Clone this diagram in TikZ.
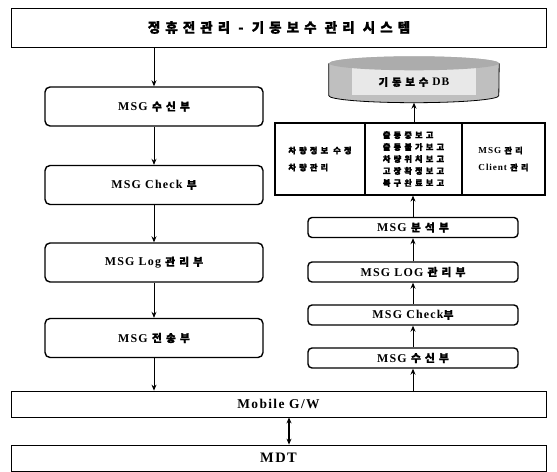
\documentclass[tikz,border=0pt]{standalone}
\usepackage{fontspec}
\setmainfont{Liberation Serif}[LetterSpace=10]
\newfontfamily\kr{Noto Sans CJK KR}[LetterSpace=38, FakeBold=1.6, Scale=0.9]
\usetikzlibrary{arrows.meta}
\begin{document}
\begin{tikzpicture}[x=1bp,y=-1bp,
  every node/.style={inner sep=0pt},
  frame/.style={draw, line width=0.8pt, minimum width=535bp},
  lbox/.style={draw, rounded corners=5bp, line width=1.4pt, minimum width=218bp, minimum height=39bp, font=\fontsize{12}{14}\selectfont\bfseries},
  rbox/.style={draw, rounded corners=4bp, line width=1.4pt, minimum width=210bp, minimum height=20bp, font=\fontsize{12}{14}\selectfont\bfseries},
  pbox/.style={draw, line width=1.2pt, minimum height=72bp, align=left, font=\fontsize{9.2}{12}\selectfont\bfseries},
  arr/.style={-{Stealth[length=6bp,width=5bp]}, line width=0.8pt},
  darr/.style={{Stealth[length=6bp,width=5bp]}-{Stealth[length=6bp,width=5bp]}, line width=1.2pt}
]
\useasboundingbox (0,0) rectangle (557,472);

% top system
\node[frame, minimum height=39bp, font=\fontsize{15}{17}\selectfont\bfseries] (top) at (279,27.5) {\kr 정휴전관리 - 기동보수 관리 시스템};

% left column
\node[lbox] (l1) at (154,106.5) {MSG {\kr 수신부}};
\node[lbox] (l2) at (154,185) {MSG Check {\kr 부}};
\node[lbox] (l3) at (154,262.5) {MSG Log {\kr 관리부}};
\node[lbox] (l4) at (154,338) {MSG {\kr 전송부}};

% gateway and MDT
\node[frame, minimum height=26bp, font=\fontsize{13.5}{15}\selectfont\bfseries] (gw) at (278.5,404) {Mobile G/W};
\node[frame, minimum height=26bp, font=\fontsize{14.5}{16}\selectfont\bfseries] (mdt) at (278.5,458) {MDT};

% right column
\node[rbox] (r4) at (413,358) {MSG {\kr 수신부}};
\node[rbox] (r3) at (413,315) {MSG Check{\kr 부}};
\node[rbox] (r2) at (413,272) {MSG LOG {\kr 관리부}};
\node[rbox] (r1) at (413,227.5) {MSG {\kr 분석부}};

% panel
\node[pbox, minimum width=90bp] (p1) at (320,159) {{\kr 차량정보 수정}\\[5bp]{\kr 차량관리}};
\node[pbox, minimum width=97bp] (p2) at (413.5,159) {\kr 출동중보고\\\kr 출동불가보고\\\kr 차량위치보고\\\kr 고장확정보고\\\kr 복구완료보고};
\node[pbox, minimum width=83bp] (p3) at (503.5,159) {MSG {\kr 관리}\\[5bp]Client {\kr 관리}};

% database
\node[minimum width=170bp, minimum height=46bp] (db) at (414,79.5) {};
\fill[gray!50] ([yshift=-7bp]db.north west) -- ([yshift=7bp]db.south west)
  arc[start angle=180, end angle=360, x radius=85bp, y radius=7bp]
  -- ([yshift=-7bp]db.north east)
  arc[start angle=0, end angle=180, x radius=85bp, y radius=7bp] -- cycle;
\fill[gray!18] ([yshift=-7bp]db.north) ++(-62bp,-5bp) rectangle ++(124bp,-27bp);
\fill[gray!65] ([yshift=-7bp]db.north) ellipse[x radius=85bp, y radius=7bp];
\draw[line width=0.8pt] ([yshift=-7bp]db.north west) -- ([yshift=7bp]db.south west)
  arc[start angle=180, end angle=360, x radius=85bp, y radius=7bp]
  -- ([yshift=-7bp]db.north east);
\node[font=\fontsize{11.5}{13}\selectfont\bfseries] (dbt) at (414,82) {{\kr 기동보수} DB};

% arrows left
\draw[arr] (top.south -| l1.north) -- (l1.north);
\draw[arr] (l1) -- (l2);
\draw[arr] (l2) -- (l3);
\draw[arr] (l3) -- (l4);
\draw[arr] (l4.south) -- (l4.south |- gw.north);

% arrows right
\draw[arr] (gw.north -| r4.south) -- (r4.south);
\draw[arr] (r4) -- (r3);
\draw[arr] (r3) -- (r2);
\draw[arr] (r2) -- (r1);
\draw[arr] (r1.north) -- (r1.north |- p2.south);
\draw[arr] (p2.north -| db.south) -- (db.south);

% gw <-> mdt
\draw[darr] ([xshift=10.5bp]gw.south) -- ([xshift=10.5bp]mdt.north);
\end{tikzpicture}
\end{document}
